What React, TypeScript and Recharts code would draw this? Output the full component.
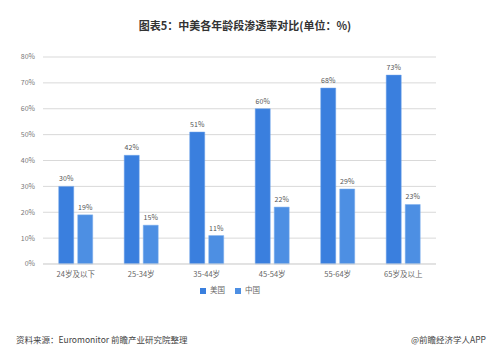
import React from 'react';
import { BarChart, Bar, XAxis, YAxis, CartesianGrid, Legend, LabelList } from 'recharts';

const ageGroups = ['24岁及以下', '25-34岁', '35-44岁', '45-54岁', '55-64岁', '65岁及以上'];
const usValues = [30, 42, 51, 60, 68, 73];
const cnValues = [19, 15, 11, 22, 29, 23];
const yTicks = [0, 10, 20, 30, 40, 50, 60, 70, 80];

const data = ageGroups.map((name, i) => ({ name, us: usValues[i], cn: cnValues[i] }));

const font = '"Noto Sans CJK SC", "Noto Sans", sans-serif';

const App: React.FC = () => {
    return (
        <div style={{ position: 'absolute', left: 0, top: 0, width: 500, height: 356, background: '#fff', fontFamily: font }}>
            <div style={{ position: 'absolute', top: 17, left: 0, width: 490, textAlign: 'center', fontSize: 11, fontWeight: 'bold', color: '#333' }}>
                图表5：中美各年龄段渗透率对比(单位：%)
            </div>
            <BarChart
                width={500}
                height={356}
                data={data}
                margin={{ top: 57, right: 64, left: 7, bottom: 72 }}
                barCategoryGap="24%"
                barGap={4}
            >
                <CartesianGrid vertical={false} stroke="#d9d9d9" />
                <XAxis
                    dataKey="name"
                    height={20}
                    tickLine={false}
                    axisLine={{ stroke: '#d9d9d9' }}
                    tick={{ fill: '#666', fontSize: 7.5, fontFamily: font }}
                />
                <YAxis
                    width={36}
                    domain={[0, 80]}
                    ticks={yTicks}
                    tickFormatter={(v) => `${v}%`}
                    axisLine={false}
                    tickLine={false}
                    tick={{ fill: '#777', fontSize: 7, fontFamily: font }}
                />
                <Legend
                    verticalAlign="middle"
                    align="center"
                    iconType="square"
                    iconSize={6}
                    itemSorter={(item: any) => (item.dataKey === 'us' ? 0 : 1)}
                    wrapperStyle={{ top: 284, left: 0, width: 470, fontSize: 7.5, fontFamily: font }}
                    formatter={(value) => <span style={{ color: '#666' }}>{value}</span>}
                />
                <Bar dataKey="us" name="美国" fill="#3A7FDE" stroke="#6FA3EA" strokeWidth={0.5} isAnimationActive={false}>
                    <LabelList dataKey="us" position="top" formatter={(v: any) => `${v}%`} style={{ fill: '#555', fontSize: 7, fontFamily: font }} />
                </Bar>
                <Bar dataKey="cn" name="中国" fill="#4D8FE3" stroke="#7FB0EE" strokeWidth={0.5} isAnimationActive={false}>
                    <LabelList dataKey="cn" position="top" formatter={(v: any) => `${v}%`} style={{ fill: '#555', fontSize: 7, fontFamily: font }} />
                </Bar>
            </BarChart>
            <div style={{ position: 'absolute', top: 333, left: 16, fontSize: 8.5, color: '#444' }}>
                资料来源：Euromonitor 前瞻产业研究院整理
            </div>
            <div style={{ position: 'absolute', top: 333, right: 14, fontSize: 8.5, color: '#444' }}>
                @前瞻经济学人APP
            </div>
        </div>
    );
};

export default App;
